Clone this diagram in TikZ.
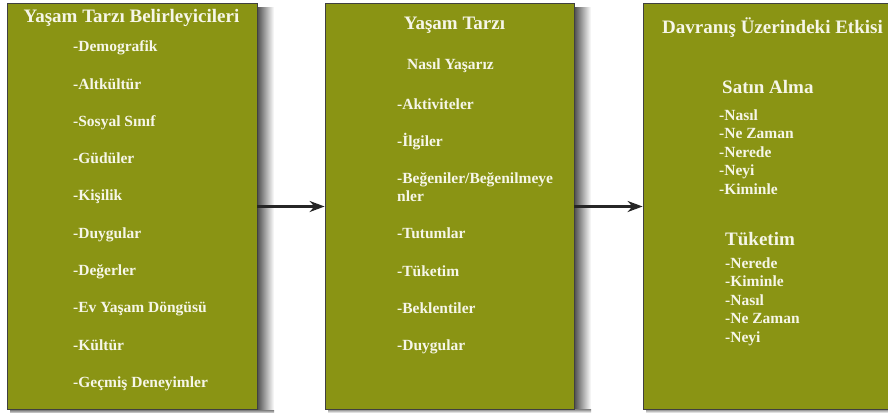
\documentclass[tikz,border=0pt]{standalone}
\usepackage{fontspec}
\setmainfont{Liberation Serif}[BoldFont={Liberation Serif Bold}]
\newfontfamily\kalin{Liberation Serif Bold}
\usetikzlibrary{arrows.meta}
\definecolor{zeytin}{RGB}{138,148,20}
\definecolor{krem}{RGB}{246,246,232}
\tikzset{
	panel/.style={draw=black!75,line width=0.8pt,fill=zeytin,minimum width=250pt,minimum height=406pt,inner sep=0pt},
	baslik/.style={text=krem,font=\fontsize{19}{22}\kalin,inner sep=0pt},
	madde/.style={text=krem,font=\fontsize{15.5}{18}\kalin,anchor=base west,inner sep=0pt},
	ok/.style={draw=black!85,line width=2.2pt,-{Stealth[length=15pt,width=11pt]}}
}
\begin{document}
\begin{tikzpicture}[x=1pt,y=-1pt,
			declare function={
				colA = 73;
				colB = 397;
				colC = 719;
				colD = 725;
				rowH = 37.3;
				listH = 18.5;
			}
			]
			\useasboundingbox[fill=white] (0,0) rectangle (888,412);
			% golgeler
			\shade[left color=black!70,right color=white] (257,8) rectangle (274,413);
			\shade[left color=black!70,right color=white] (574,8) rectangle (591,413);
			\shade[top color=black!50,bottom color=white] (10,410) rectangle (274,414);
			\shade[top color=black!50,bottom color=white] (328,409) rectangle (591,413);
			\shade[top color=black!50,bottom color=white] (646,409) rectangle (888,413);
			% kutular
			\node[panel] (belirleyici) at (132,206.5) {};
			\node[panel,minimum width=249pt] (tarz) at (449.5,206.5) {};
			\node[panel] (etki) at (768,206.5) {};
			\draw[ok] (belirleyici.east) -- (tarz.west);
			\draw[ok] (tarz.east) -- (etki.west);
			% 1. kutu
			\node[baslik,anchor=base] (bel-baslik) at (131.5,23) {Yaşam Tarzı Belirleyicileri};
			\foreach \txt [count=\i from 0] in {-Demografik,-Altkültür,-Sosyal Sınıf,-Güdüler,-Kişilik,-Duygular,-Değerler,-Ev Yaşam Döngüsü,-Kültür,-Geçmiş Deneyimler}{
				\node[madde] (bel-\i) at (colA,{51.7+\i*rowH}) {\txt};
			}
			% 2. kutu
			\node[baslik,anchor=base] (tarz-baslik) at (454.5,29.5) {Yaşam Tarzı};
			\node[madde] (tarz-alt) at (407,70) {Nasıl Yaşarız};
			\foreach \txt/\y [count=\i] in {-Aktiviteler/109,-İlgiler/146.3,{-Beğeniler/Beğenilmeye}/183.6,nler/201.6,-Tutumlar/238.9,-Tüketim/276.2,-Beklentiler/313.5,-Duygular/350.8}{
				\node[madde] (tarz-\i) at (colB,\y) {\txt};
			}
			% 3. kutu
			\node[baslik,anchor=base] (etki-baslik) at (772.5,33.5) {Davranış Üzerindeki Etkisi};
			\node[baslik,anchor=base west] (satin) at (722,93) {Satın Alma};
			\foreach \txt [count=\i from 0] in {-Nasıl,-Ne Zaman,-Nerede,-Neyi,-Kiminle}{
				\node[madde] (satin-\i) at (colC,{120+\i*listH}) {\txt};
			}
			\node[baslik,anchor=base west] (tuketim) at (725,245) {Tüketim};
			\foreach \txt [count=\i from 0] in {-Nerede,-Kiminle,-Nasıl,-Ne Zaman,-Neyi}{
				\node[madde] (tuketim-\i) at (colD,{268.3+\i*listH}) {\txt};
			}
		\end{tikzpicture}
\end{document}
